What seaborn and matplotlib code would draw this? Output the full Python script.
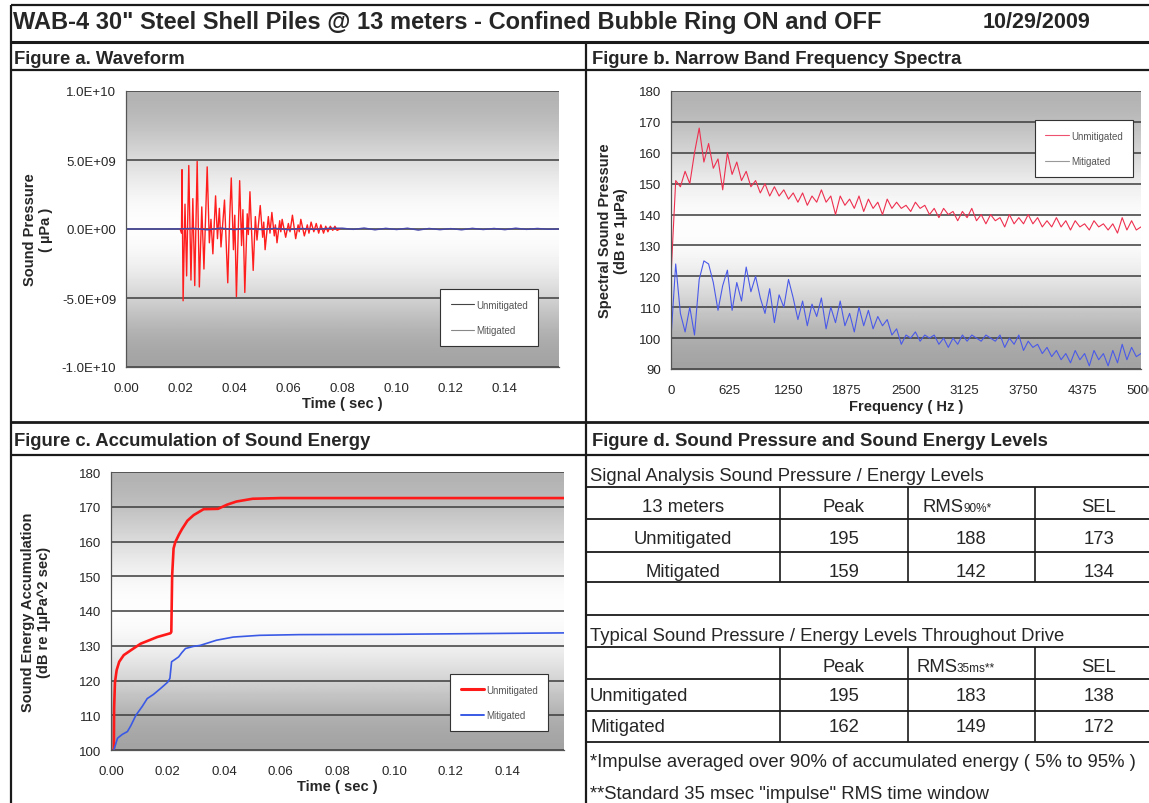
import numpy as np
import pandas as pd
import matplotlib.pyplot as plt
import seaborn as sns
from matplotlib.lines import Line2D
from matplotlib.ticker import MultipleLocator

# ---------------- data ----------------

# figure a: waveform, sound pressure in 1e9 uPa
wave_unmit_t = [0.0200, 0.0205, 0.0207, 0.0211, 0.0218, 0.0224, 0.0232, 0.0240, 0.0247, 0.0254,
                0.0263, 0.0271, 0.0280, 0.0288, 0.0300, 0.0308, 0.0314, 0.0321, 0.0331, 0.0338,
                0.0345, 0.0351, 0.0364, 0.0376, 0.0383, 0.0389, 0.0397, 0.0402, 0.0408, 0.0420,
                0.0427, 0.0432, 0.0439, 0.0448, 0.0452, 0.0458, 0.0470, 0.0478, 0.0484, 0.0496,
                0.0505, 0.0509, 0.0514, 0.0526, 0.0532, 0.0539, 0.0548, 0.0552, 0.0558, 0.0568,
                0.0572, 0.0577, 0.0590, 0.0600, 0.0606, 0.0615, 0.0627, 0.0636, 0.0640, 0.0646,
                0.0659, 0.0670, 0.0676, 0.0684, 0.0694, 0.0703, 0.0712, 0.0720, 0.0730, 0.0738,
                0.0746, 0.0755, 0.0764, 0.0772, 0.0780, 0.0790]
wave_unmit = [0.0, -0.3, 4.3, -5.2, 1.8, -3.4, 4.6, -3.7, 2.2, -4.1,
              4.9, -4.2, 1.6, -2.9, 4.5, -1.0, 0.7, -1.8, 2.4, -0.7,
              1.5, -1.3, 2.1, -3.9, 0.8, 3.7, -1.5, 1.0, -4.9, 3.5,
              -1.2, 1.4, -4.6, 1.1, -0.4, 2.7, -3.0, 0.9, -0.8, 1.7,
              -0.6, 0.5, -1.5, 0.9, -0.3, 1.2, -0.5, 0.3, -1.0, 0.6,
              -0.2, 0.7, -0.6, 0.4, -0.2, 1.0, -0.7, 0.3, -0.2, 0.7,
              -0.5, 0.3, -0.3, 0.5, -0.2, 0.4, -0.3, 0.3, -0.3, 0.2,
              -0.2, 0.2, -0.1, 0.2, -0.1, 0.0]
wave_mit_t = [0.000, 0.005, 0.010, 0.015, 0.020, 0.025, 0.030, 0.035, 0.040, 0.045,
              0.050, 0.055, 0.060, 0.065, 0.070, 0.075, 0.080, 0.084, 0.088, 0.092,
              0.096, 0.100, 0.104, 0.108, 0.112, 0.116, 0.120, 0.124, 0.128, 0.132,
              0.136, 0.140, 0.144, 0.148, 0.152, 0.156, 0.160]
wave_mit = [0.00, 0.00, 0.00, 0.00, 0.01, 0.05, -0.06, 0.07, -0.05, 0.06,
            -0.04, 0.05, -0.05, 0.04, -0.03, 0.05, 0.06, -0.03, 0.07, -0.06,
            0.05, -0.04, 0.06, -0.08, 0.04, -0.05, 0.03, -0.06, 0.05, -0.04,
            0.04, -0.05, 0.06, -0.03, 0.04, -0.02, 0.00]

# figure b: narrow band spectra, 50 Hz bins from 0 to 5000 Hz (dB re 1uPa)
spec_unmit = [120, 151, 149, 154, 150, 160, 168, 157, 163, 155,
              158, 148, 160, 153, 157, 151, 154, 149, 151, 147,
              150, 146, 149, 146, 148, 145, 147, 144, 147, 143,
              146, 144, 148, 144, 146, 140, 146, 143, 145, 142,
              146, 141, 145, 142, 144, 140, 145, 142, 144, 142,
              143, 141, 144, 142, 143, 140, 142, 139, 142, 140,
              141, 138, 141, 139, 142, 138, 140, 137, 140, 138,
              139, 136, 140, 137, 139, 137, 140, 137, 139, 136,
              138, 136, 139, 136, 138, 135, 138, 136, 137, 135,
              138, 136, 137, 135, 137, 134, 139, 135, 138, 135,
              136]
spec_mit = [100, 124, 108, 102, 110, 101, 119, 125, 124, 118,
            109, 117, 122, 109, 118, 112, 123, 115, 120, 113,
            108, 116, 105, 114, 110, 119, 113, 106, 112, 104,
            111, 107, 113, 103, 110, 105, 112, 104, 108, 102,
            110, 104, 109, 103, 107, 104, 106, 101, 103, 98,
            101, 100, 102, 99, 101, 100, 101, 98, 100, 97,
            100, 98, 101, 99, 101, 100, 99, 101, 100, 99,
            101, 97, 100, 98, 101, 96, 99, 97, 98, 95,
            97, 94, 96, 93, 95, 92, 96, 93, 95, 91,
            96, 93, 95, 91, 96, 92, 98, 93, 97, 94,
            95]
freq = np.linspace(0, 5000, len(spec_unmit))

# figure c: accumulated sound energy (dB re 1uPa^2 sec)
cum_unmit_t = [0.0010, 0.0011, 0.0014, 0.0020, 0.0029, 0.0045, 0.0070, 0.0105, 0.0163, 0.0210,
               0.0213, 0.0216, 0.0221, 0.0227, 0.0240, 0.0251, 0.0270, 0.0292, 0.0327, 0.0378,
               0.0410, 0.0443, 0.0500, 0.0600, 0.1600]
cum_unmit = [100.0, 112.0, 119.5, 123.0, 125.4, 127.3, 128.7, 130.6, 132.5, 133.6,
             134.0, 150.2, 158.0, 159.8, 162.0, 163.6, 166.0, 167.6, 169.3, 169.4,
             170.6, 171.5, 172.3, 172.5, 172.5]
cum_mit_t = [0.0010, 0.0023, 0.0040, 0.0058, 0.0070, 0.0088, 0.0110, 0.0128, 0.0150, 0.0175,
             0.0200, 0.0208, 0.0214, 0.0225, 0.0239, 0.0250, 0.0263, 0.0290, 0.0315, 0.0373,
             0.0432, 0.0525, 0.0665, 0.1000, 0.1300, 0.1600]
cum_mit = [100.0, 103.4, 104.5, 105.3, 107.0, 110.0, 112.5, 114.8, 116.0, 117.7,
           119.5, 120.6, 125.4, 126.0, 126.8, 128.0, 129.2, 129.8, 130.1, 131.6,
           132.5, 133.0, 133.2, 133.3, 133.5, 133.7]

# figure d: tables
sig_cols = ["13 meters", "Peak", "RMS", "SEL"]
rows = ["Unmitigated", "Mitigated"]
sig_peak = [195, 159]
sig_rms = [188, 142]
sig_sel = [173, 134]
typ_peak = [195, 162]
typ_rms = [183, 149]
typ_sel = [138, 172]

# ---------------- drawing ----------------
W, H = 1149, 804
sns.set_style("white")
plt.rcParams['font.family'] = ['Liberation Sans', 'DejaVu Sans']

fig = plt.figure(figsize=(W / 100, H / 100), dpi=100)
bg = fig.add_axes([0, 0, 1, 1])
bg.set_xlim(0, W)
bg.set_ylim(H, 0)
bg.axis('off')


def box(x0, y0, x1, y1):
    return [x0 / W, 1 - y1 / H, (x1 - x0) / W, (y1 - y0) / H]


def rule(x0, x1, y, lw=1.4):
    bg.plot([x0, x1], [y, y], color='#1a1a1a', lw=lw, solid_capstyle='butt')


def vrule(x, y0, y1, lw=1.4):
    bg.plot([x, x], [y0, y1], color='#1a1a1a', lw=lw, solid_capstyle='butt')


# frame
rule(11, W, 6, 1.6)
vrule(11, 6, H, 1.6)
rule(11, W, 43, 2.2)
vrule(586, 43, H, 1.6)
rule(11, W, 71, 1.6)
rule(11, W, 423, 2.0)
rule(11, W, 456, 1.6)

bg.text(13, 23, 'WAB-4 30" Steel Shell Piles @ 13 meters - Confined Bubble Ring ON and OFF',
        fontsize=17, fontweight='bold', va='center', ha='left')
bg.text(1037, 23, '10/29/2009', fontsize=15.5, fontweight='bold', va='center', ha='center')
hf = 13.3
bg.text(14, 59, 'Figure a. Waveform', fontsize=hf, fontweight='bold', va='center')
bg.text(592, 59, 'Figure b. Narrow Band Frequency Spectra', fontsize=hf, fontweight='bold', va='center')
bg.text(14, 442, 'Figure c. Accumulation of Sound Energy', fontsize=hf, fontweight='bold', va='center')
bg.text(592, 442, 'Figure d. Sound Pressure and Sound Energy Levels', fontsize=hf, fontweight='bold', va='center')

grad = np.array([0.70, 0.76, 0.84, 0.92, 0.98, 1.0, 0.97, 0.90, 0.80, 0.70, 0.64])


def style_axes(ax, xlim, ylim, yticks):
    ax.imshow(grad[:, None], cmap='gray', vmin=0, vmax=1, extent=[0, 1, 0, 1],
              transform=ax.transAxes, aspect='auto', interpolation='bicubic', zorder=0)
    ax.set_xlim(*xlim)
    ax.set_ylim(*ylim)
    ax.set_yticks(yticks)
    ax.set_axisbelow(True)
    ax.yaxis.grid(True, color='#3c3c3c', lw=1.1)
    ax.xaxis.grid(False)
    for s in ['top', 'right']:
        ax.spines[s].set_visible(False)
    for s in ['left', 'bottom']:
        ax.spines[s].set_color('#555555')
        ax.spines[s].set_linewidth(0.9)
    ax.tick_params(which='both', direction='out', color='#555555', width=0.8, labelsize=9.5, pad=3)
    ax.tick_params(axis='x', which='major', pad=7)
    ax.tick_params(which='major', length=4)
    ax.tick_params(which='minor', length=2.5)
    ax.set_facecolor('white')


def small_legend(ax, handles, labels, anchor):
    leg = ax.legend(handles, labels, loc='upper left', bbox_to_anchor=anchor, fontsize=7,
                    frameon=True, fancybox=False, edgecolor='#333333', framealpha=1,
                    handlelength=2.4, labelspacing=1.6, borderpad=1.1, handletextpad=0.2,
                    borderaxespad=0)
    leg.get_frame().set_linewidth(0.8)
    for t in leg.get_texts():
        t.set_color('#555555')


lf = 10.5

# figure a
axa = fig.add_axes(box(126, 92, 559, 368))
style_axes(axa, (0, 0.16), (-1e10, 1e10), [-1e10, -5e9, 0, 5e9, 1e10])
sns.lineplot(x=wave_unmit_t, y=np.array(wave_unmit) * 1e9, ax=axa, color='#ff1e1e', lw=1.0,
             estimator=None, sort=False)
sns.lineplot(x=wave_mit_t, y=np.array(wave_mit) * 1e9, ax=axa, color='#4646a8', lw=1.0,
             estimator=None, sort=False)
axa.set_xticks([0, 0.02, 0.04, 0.06, 0.08, 0.10, 0.12, 0.14])
axa.set_xticklabels(['0.00', '0.02', '0.04', '0.06', '0.08', '0.10', '0.12', '0.14'])
axa.xaxis.set_minor_locator(MultipleLocator(0.005))
axa.set_yticklabels(['-1.0E+10', '-5.0E+09', '0.0E+00', '5.0E+09', '1.0E+10'])
axa.set_xlabel('Time ( sec )', fontsize=lf, fontweight='bold', labelpad=1)
axa.set_ylabel('Sound Pressure\n( µPa )', fontsize=lf, fontweight='bold', labelpad=6)
small_legend(axa, [Line2D([], [], color='#444444', lw=0.8), Line2D([], [], color='#888888', lw=0.8)],
             ['Unmitigated', 'Mitigated'], (0.725, 0.283))

# figure b
axb = fig.add_axes(box(671, 92, 1141, 370))
style_axes(axb, (0, 5000), (90, 180), list(range(90, 181, 10)))
sns.lineplot(x=freq, y=spec_unmit, ax=axb, color='#ee3050', lw=0.8, estimator=None)
sns.lineplot(x=freq, y=spec_mit, ax=axb, color='#4a5ae8', lw=0.8, estimator=None)
axb.set_xticks([0, 625, 1250, 1875, 2500, 3125, 3750, 4375, 5000])
axb.xaxis.set_minor_locator(MultipleLocator(312.5))
axb.set_xlabel('Frequency ( Hz )', fontsize=lf, fontweight='bold', labelpad=2)
axb.set_ylabel('Spectral Sound Pressure\n(dB re 1µPa)', fontsize=lf, fontweight='bold', labelpad=8)
small_legend(axb, [Line2D([], [], color='#ee5070', lw=0.8), Line2D([], [], color='#999999', lw=0.8)],
             ['Unmitigated', 'Mitigated'], (0.774, 0.896))

# figure c
axc = fig.add_axes(box(111, 473, 564, 751))
style_axes(axc, (0, 0.16), (100, 180), list(range(100, 181, 10)))
sns.lineplot(x=cum_unmit_t, y=cum_unmit, ax=axc, color='#ff1a1a', lw=1.9, estimator=None)
sns.lineplot(x=cum_mit_t, y=cum_mit, ax=axc, color='#3a5ae6', lw=1.2, estimator=None)
axc.set_xticks([0, 0.02, 0.04, 0.06, 0.08, 0.10, 0.12, 0.14])
axc.set_xticklabels(['0.00', '0.02', '0.04', '0.06', '0.08', '0.10', '0.12', '0.14'])
axc.xaxis.set_minor_locator(MultipleLocator(0.01))
axc.yaxis.set_minor_locator(MultipleLocator(5))
axc.set_xlabel('Time ( sec )', fontsize=lf, fontweight='bold', labelpad=1)
axc.set_ylabel('Sound Energy Accumulation\n(dB re 1µPa^2 sec)', fontsize=lf, fontweight='bold', labelpad=20)
small_legend(axc, [Line2D([], [], color='#ff1a1a', lw=2.2), Line2D([], [], color='#3a5ae6', lw=1.4)],
             ['Unmitigated', 'Mitigated'], (0.748, 0.273))

# figure d: tables
fs = 13.3
for y in [488, 520, 553, 583, 616, 648, 680, 712, 743]:
    rule(586, W, y, 1.3)
for x in [780, 908, 1035]:
    vrule(x, 488, 583, 1.2)
    vrule(x, 648, 743, 1.2)

bg.text(590, 477, 'Signal Analysis Sound Pressure / Energy Levels', fontsize=fs, va='center')
col_x = [683, 844, 971, 1099]
for i, c in enumerate(sig_cols):
    if c == 'RMS':
        bg.text(964, 508, 'RMS', fontsize=fs, va='center', ha='right')
        bg.text(964, 509, '90%*', fontsize=8.5, va='center', ha='left')
    else:
        bg.text(col_x[i], 508, c, fontsize=fs, va='center', ha='center')
for r, (lab, pk, rm, se) in enumerate(zip(rows, sig_peak, sig_rms, sig_sel)):
    y = 540 + 33 * r
    bg.text(col_x[0], y, lab, fontsize=fs, va='center', ha='center')
    for x, v in zip(col_x[1:], [pk, rm, se]):
        bg.text(x, y, str(v), fontsize=fs, va='center', ha='center')

bg.text(590, 637, 'Typical Sound Pressure / Energy Levels Throughout Drive', fontsize=fs, va='center')
bg.text(col_x[1], 668, 'Peak', fontsize=fs, va='center', ha='center')
bg.text(957, 668, 'RMS', fontsize=fs, va='center', ha='right')
bg.text(957, 669, '35ms**', fontsize=8.5, va='center', ha='left')
bg.text(col_x[3], 668, 'SEL', fontsize=fs, va='center', ha='center')
for r, (lab, pk, rm, se) in enumerate(zip(rows, typ_peak, typ_rms, typ_sel)):
    y = 697 + 31 * r
    bg.text(590, y, lab, fontsize=fs, va='center', ha='left')
    for x, v in zip(col_x[1:], [pk, rm, se]):
        bg.text(x, y, str(v), fontsize=fs, va='center', ha='center')

bg.text(590, 763, '*Impulse averaged over 90% of accumulated energy ( 5% to 95% )', fontsize=fs, va='center')
bg.text(590, 795, '**Standard 35 msec "impulse" RMS time window', fontsize=fs, va='center')

plt.savefig('out.png', dpi=100)
plt.close()
